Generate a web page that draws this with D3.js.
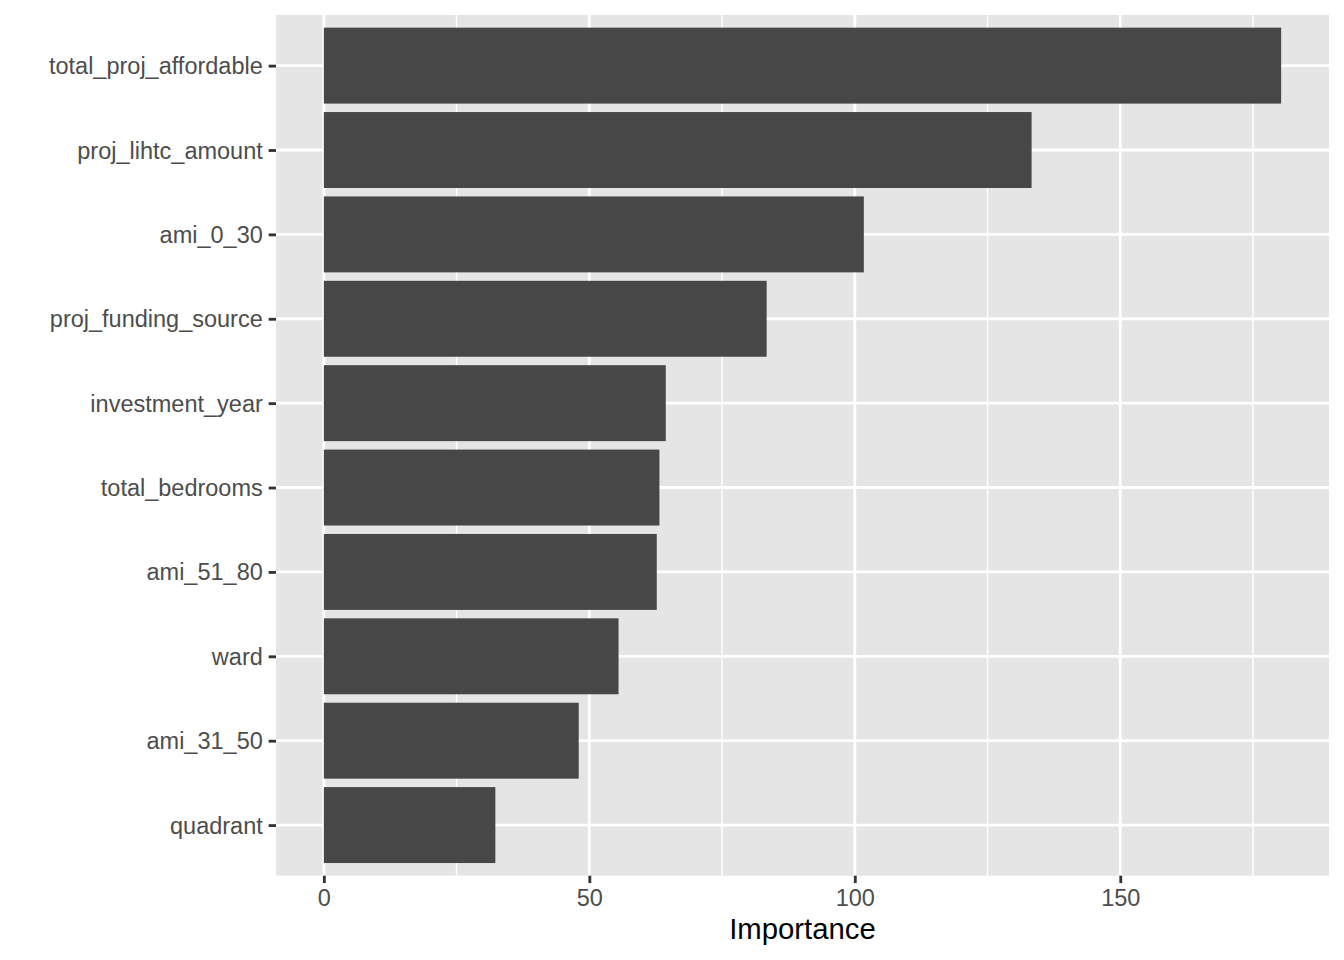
<!DOCTYPE html>
<html><head><meta charset="utf-8">
<script src="https://cdn.jsdelivr.net/npm/d3@7"></script>
<style>body{margin:0;background:#fff}svg{display:block}text{font-family:"Liberation Sans",Arial,Helvetica,sans-serif}</style>
</head><body>
<script>
const categories = ["total_proj_affordable","proj_lihtc_amount","ami_0_30","proj_funding_source","investment_year","total_bedrooms","ami_51_80","ward","ami_31_50","quadrant"];
const importance = [180.3, 133.3, 101.7, 83.4, 64.4, 63.2, 62.7, 55.5, 48.0, 32.3];
const xTicks = [0, 50, 100, 150];
const xMinor = [25, 75, 125, 175];

const W = 1344, H = 960;
const panel = {left: 276, right: 1329, top: 15, bottom: 875.7};
const svg = d3.select("body").append("svg").attr("width", W).attr("height", H);

const maxV = d3.max(importance);
const pad = maxV * 0.05;
const x = d3.scaleLinear().domain([-pad, maxV + pad]).range([panel.left, panel.right]);
const y = d3.scaleBand().domain(categories).range([panel.top, panel.bottom]).paddingInner(0.1).paddingOuter(0.55);
// ggplot: expand 0.6 units each side, bar width 0.9 -> outer padding
const step = (panel.bottom - panel.top) / (categories.length + 0.2);
const yc = d => panel.top + step * (0.6 + categories.indexOf(d));
const bh = step * 0.9;

svg.append("rect").attr("x", panel.left).attr("y", panel.top)
  .attr("width", panel.right - panel.left).attr("height", panel.bottom - panel.top).attr("fill", "#E5E5E5");

const g = svg.append("g");
g.selectAll("line.minor").data(xMinor).enter().append("line")
  .attr("x1", d => x(d)).attr("x2", d => x(d)).attr("y1", panel.top).attr("y2", panel.bottom)
  .attr("stroke", "#fff").attr("stroke-width", 1.42);
g.selectAll("line.majx").data(xTicks).enter().append("line")
  .attr("x1", d => x(d)).attr("x2", d => x(d)).attr("y1", panel.top).attr("y2", panel.bottom)
  .attr("stroke", "#fff").attr("stroke-width", 2.84);
g.selectAll("line.majy").data(categories).enter().append("line")
  .attr("x1", panel.left).attr("x2", panel.right).attr("y1", d => yc(d)).attr("y2", d => yc(d))
  .attr("stroke", "#fff").attr("stroke-width", 2.84);

svg.selectAll("rect.bar").data(categories).enter().append("rect")
  .attr("x", x(0)).attr("y", d => yc(d) - bh / 2)
  .attr("width", (d, i) => x(importance[i]) - x(0)).attr("height", bh)
  .attr("fill", "#474747");

// y axis
const yAxis = d3.axisLeft(d3.scalePoint().domain(categories).range([yc(categories[0]), yc(categories[categories.length - 1])]))
  .tickSize(7.33).tickPadding(5.9);
const ya = svg.append("g").attr("transform", `translate(${panel.left},0)`).call(yAxis);
ya.select(".domain").remove();
ya.selectAll("line").attr("stroke", "#333333").attr("stroke-width", 2.84);
ya.selectAll("text").attr("fill", "#4D4D4D").attr("font-size", 23.5).attr("dy", "0.34em");

// x axis
const xAxis = d3.axisBottom(x).tickValues(xTicks).tickFormat(d3.format("d")).tickSize(7.33).tickPadding(5.9);
const xa = svg.append("g").attr("transform", `translate(0,${panel.bottom})`).call(xAxis);
xa.select(".domain").remove();
xa.selectAll("line").attr("stroke", "#333333").attr("stroke-width", 2.84);
xa.selectAll("text").attr("fill", "#4D4D4D").attr("font-size", 23.5).attr("dy", "0.74em");

svg.append("text").attr("x", (panel.left + panel.right) / 2).attr("y", 939)
  .attr("text-anchor", "middle").attr("font-size", 29.3).attr("fill", "#000").text("Importance");
</script>
</body></html>
